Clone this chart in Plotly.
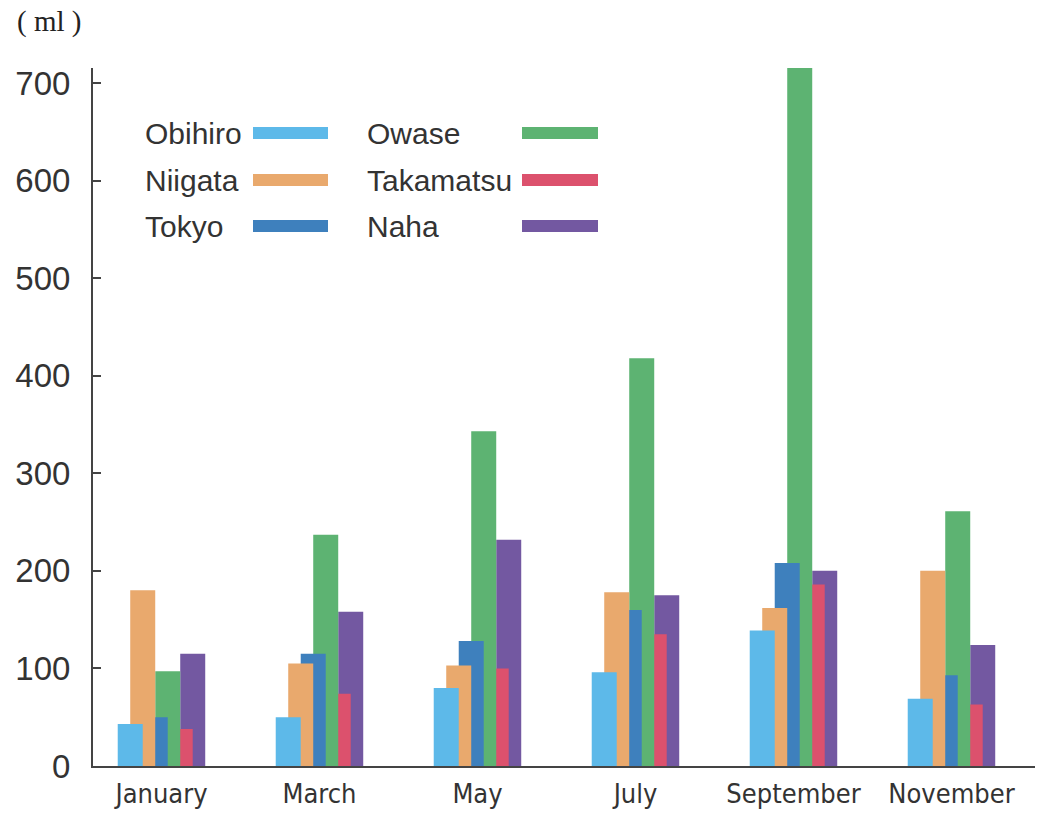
import plotly.graph_objects as go

months = ["January", "March", "May", "July", "September", "November"]
cities = ["Obihiro", "Niigata", "Tokyo", "Owase", "Takamatsu", "Naha"]
obihiro = [43, 50, 80, 96, 139, 69]
niigata = [180, 105, 103, 178, 162, 200]
tokyo = [50, 115, 128, 160, 208, 93]
owase = [97, 237, 343, 418, 717, 261]
takamatsu = [38, 74, 100, 135, 186, 63]
naha = [115, 158, 232, 175, 200, 124]
colors = ["#5db9e9", "#e9a96d", "#3e80bd", "#5db372", "#dc516d", "#7358a1"]
yticks = [0, 100, 200, 300, 400, 500, 600, 700]

series = [obihiro, niigata, tokyo, owase, takamatsu, naha]
xpos = list(range(len(months)))

# page body margin is removed below (post_script), so figure == window
W, H = 1049, 815
L, T = 93, 68
R = W - 1035
B = H - 766
pw, ph = W - L - R, H - T - B
grp_px = 158.0
step = 12.5 / grp_px
bw = 25.0 / grp_px

fig = go.Figure()
# draw in reverse so Obihiro is on top
for k in reversed(range(len(cities))):
    fig.add_trace(go.Bar(
        x=xpos, y=series[k], name=cities[k],
        width=bw, offset=-0.277 + k * step,
        marker=dict(color=colors[k], line=dict(width=0)),
        cliponaxis=False, showlegend=False,
    ))

x0 = -(161.5 - L) / grp_px
x1 = x0 + pw / grp_px
ymax = 700 * ph / 683.0

fig.update_layout(
    width=W, height=H,
    margin=dict(l=L, r=R, t=T, b=B, pad=0, autoexpand=False),
    barmode="overlay",
    plot_bgcolor="white", paper_bgcolor="white",
    font=dict(family="Liberation Sans, Arial, sans-serif", color="#333333"),
    xaxis=dict(
        range=[x0, x1], tickvals=xpos, ticktext=months,
        showgrid=False, zeroline=False, showline=True, automargin=False,
        linecolor="#444444", linewidth=2, ticks="",
        tickfont=dict(family="DejaVu Sans Condensed, Liberation Sans Narrow, sans-serif",
                      size=27, color="#333333"),
        ticklabelstandoff=3,
    ),
    yaxis=dict(
        range=[0, ymax], tickvals=yticks,
        showgrid=False, zeroline=False, showline=True, automargin=False,
        linecolor="#444444", linewidth=2,
        ticks="inside", ticklen=8, tickwidth=2, tickcolor="#444444",
        tickfont=dict(size=33, color="#333333"),
        ticklabelstandoff=14,
    ),
)

def px2paper(px, py):
    return (px - L) / pw, (766 - py) / ph

# unit label
ux, uy = px2paper(15, 22)
fig.add_annotation(text="( ml )", xref="paper", yref="paper", x=ux, y=uy,
                   xanchor="left", yanchor="middle", showarrow=False,
                   font=dict(family="Liberation Serif, DejaVu Serif, serif", size=29, color="#222222"))

# legend (manual, text left of swatch)
leg_rows = [133, 180, 226]
leg_cols = [(143, 253, 328), (365, 522, 598)]
for k, name in enumerate(cities):
    c, r = divmod(k, 3)
    tx, sx0, sx1 = leg_cols[c]
    py = leg_rows[r]
    ax, ay = px2paper(tx, py)
    fig.add_annotation(text=name, xref="paper", yref="paper", x=ax, y=ay,
                       xanchor="left", yanchor="middle", showarrow=False,
                       font=dict(size=30, color="#333333"))
    p0x, p0y = px2paper(sx0, py - 6)
    p1x, p1y = px2paper(sx1, py + 6)
    fig.add_shape(type="rect", xref="paper", yref="paper",
                  x0=p0x, x1=p1x, y0=p0y, y1=p1y,
                  fillcolor=colors[k], line=dict(width=0))

fig.write_html("out.html", config={"displayModeBar": False},
               post_script="document.body.style.margin='0';document.body.style.overflow='hidden';")
